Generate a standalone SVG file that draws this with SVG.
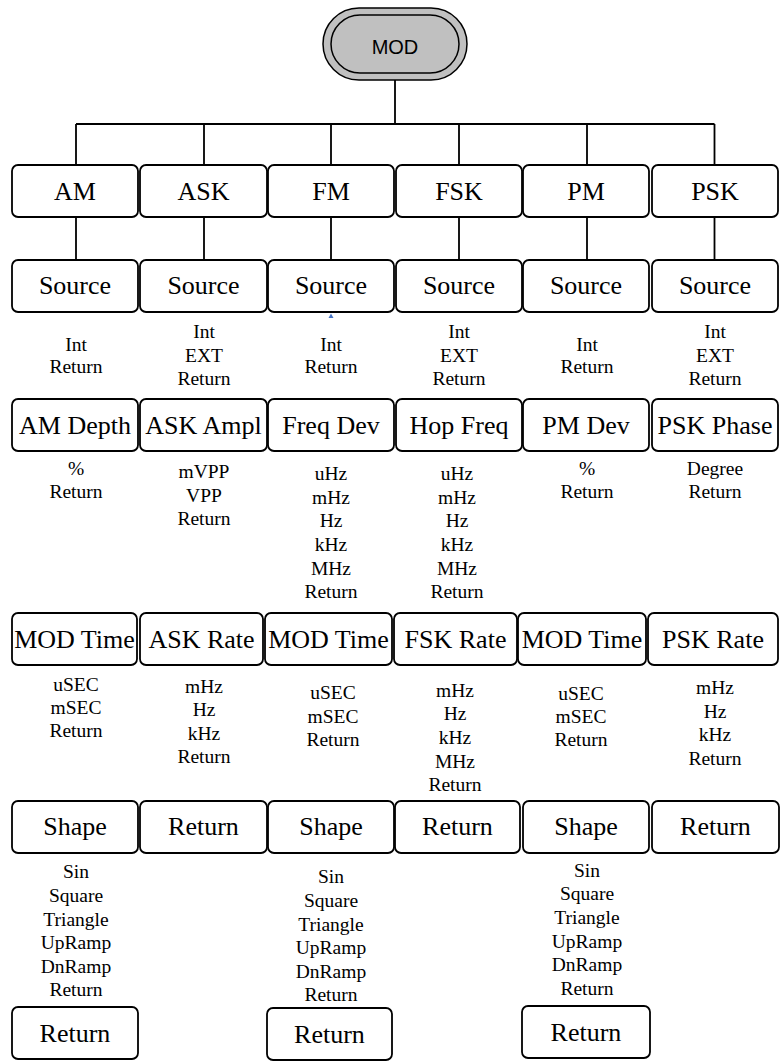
<svg xmlns="http://www.w3.org/2000/svg" width="784" height="1062" viewBox="0 0 784 1062">
<style>
.bx{fill:#fff;stroke:#000;stroke-width:1.8}
.bt{font-size:26px;fill:#000;text-anchor:middle}
.lt{font-size:19.5px;fill:#000;text-anchor:middle}
.cn{stroke:#000;stroke-width:1.8;fill:none}
.pill{fill:#c0c0c0;stroke:#000;stroke-width:1.5}
</style>
<rect width="784" height="1062" fill="#fff"/>
<g id="connectors">
<path class="cn" d="M395,80V124M76,124H714.5M76,124V165M204,124V165M331,124V165M459,124V165M587,124V165M714.5,124V165"/>
<path class="cn" d="M76,217V260M204,217V260M331,217V260M459,217V260M587,217V260M714.5,217V260"/>
<polygon points="331,313.5 328.5,318 333.5,318" fill="#4472c4"/>
</g>
<g id="mod">
<rect class="pill" x="323" y="8" width="144" height="72" rx="36"/>
<rect class="pill" x="331" y="15" width="128" height="58" rx="29"/>
<text x="395" y="54" font-family="Liberation Sans, Arial, sans-serif" font-size="20" text-anchor="middle">MOD</text>
</g>
<g font-family="Liberation Serif, DejaVu Serif, serif">
<g id="row1">
<g id="n-am"><rect class="bx" x="12" y="165" width="126" height="52" rx="6"/><text class="bt" x="75" y="199.6">AM</text></g>
<g id="n-ask"><rect class="bx" x="140" y="165" width="127" height="52" rx="6"/><text class="bt" x="203.5" y="199.6">ASK</text></g>
<g id="n-fm"><rect class="bx" x="268" y="165" width="126" height="52" rx="6"/><text class="bt" x="331" y="199.6">FM</text></g>
<g id="n-fsk"><rect class="bx" x="396" y="165" width="126" height="52" rx="6"/><text class="bt" x="459" y="199.6">FSK</text></g>
<g id="n-pm"><rect class="bx" x="523" y="165" width="126" height="52" rx="6"/><text class="bt" x="586" y="199.6">PM</text></g>
<g id="n-psk"><rect class="bx" x="652" y="165" width="126" height="52" rx="6"/><text class="bt" x="715" y="199.6">PSK</text></g>
</g>
<g id="row2">
<g id="n-src1"><rect class="bx" x="12" y="260" width="126" height="52" rx="6"/><text class="bt" x="75" y="294">Source</text></g>
<g id="n-src2"><rect class="bx" x="140" y="260" width="127" height="52" rx="6"/><text class="bt" x="203.5" y="294">Source</text></g>
<g id="n-src3"><rect class="bx" x="268" y="260" width="126" height="52" rx="6"/><text class="bt" x="331" y="294">Source</text></g>
<g id="n-src4"><rect class="bx" x="396" y="260" width="126" height="52" rx="6"/><text class="bt" x="459" y="294">Source</text></g>
<g id="n-src5"><rect class="bx" x="523" y="260" width="126" height="52" rx="6"/><text class="bt" x="586" y="294">Source</text></g>
<g id="n-src6"><rect class="bx" x="652" y="260" width="126" height="52" rx="6"/><text class="bt" x="715" y="294">Source</text></g>
</g>
<g id="list2">
<text class="lt" x="76" y="350.7">Int</text><text class="lt" x="76" y="373">Return</text>
<text class="lt" x="204" y="338.3">Int</text><text class="lt" x="204" y="361.7">EXT</text><text class="lt" x="204" y="385">Return</text>
<text class="lt" x="331" y="350.7">Int</text><text class="lt" x="331" y="373">Return</text>
<text class="lt" x="459" y="338.3">Int</text><text class="lt" x="459" y="361.7">EXT</text><text class="lt" x="459" y="385">Return</text>
<text class="lt" x="587" y="350.7">Int</text><text class="lt" x="587" y="373">Return</text>
<text class="lt" x="715" y="338.3">Int</text><text class="lt" x="715" y="361.7">EXT</text><text class="lt" x="715" y="385">Return</text>
</g>
<g id="row3">
<g id="n-amdepth"><rect class="bx" x="12" y="399" width="126" height="52" rx="6"/><text class="bt" x="75" y="434">AM Depth</text></g>
<g id="n-askampl"><rect class="bx" x="140" y="399" width="127" height="52" rx="6"/><text class="bt" x="203.5" y="434">ASK Ampl</text></g>
<g id="n-freqdev"><rect class="bx" x="268" y="399" width="126" height="52" rx="6"/><text class="bt" x="331" y="434">Freq Dev</text></g>
<g id="n-hopfreq"><rect class="bx" x="396" y="399" width="126" height="52" rx="6"/><text class="bt" x="459" y="434">Hop Freq</text></g>
<g id="n-pmdev"><rect class="bx" x="523" y="399" width="126" height="52" rx="6"/><text class="bt" x="586" y="434">PM Dev</text></g>
<g id="n-pskphase"><rect class="bx" x="652" y="399" width="126" height="52" rx="6"/><text class="bt" x="715" y="434">PSK Phase</text></g>
</g>
<g id="list3">
<text class="lt" x="76" y="475">%</text><text class="lt" x="76" y="498.3">Return</text>
<text class="lt" x="204" y="478.3">mVPP</text><text class="lt" x="204" y="501.7">VPP</text><text class="lt" x="204" y="525">Return</text>
<text class="lt" x="331" y="480">uHz</text><text class="lt" x="331" y="503.7">mHz</text><text class="lt" x="331" y="527.3">Hz</text><text class="lt" x="331" y="551">kHz</text><text class="lt" x="331" y="574.7">MHz</text><text class="lt" x="331" y="598.3">Return</text>
<text class="lt" x="457" y="480">uHz</text><text class="lt" x="457" y="503.7">mHz</text><text class="lt" x="457" y="527.3">Hz</text><text class="lt" x="457" y="551">kHz</text><text class="lt" x="457" y="574.7">MHz</text><text class="lt" x="457" y="598.3">Return</text>
<text class="lt" x="587" y="475">%</text><text class="lt" x="587" y="498.3">Return</text>
<text class="lt" x="715" y="475">Degree</text><text class="lt" x="715" y="498.3">Return</text>
</g>
<g id="row4">
<g id="n-modtime1"><rect class="bx" x="12" y="613" width="125" height="52" rx="6"/><text class="bt" x="74.5" y="647.5">MOD Time</text></g>
<g id="n-askrate"><rect class="bx" x="140" y="613" width="123" height="52" rx="6"/><text class="bt" x="201.5" y="647.5">ASK Rate</text></g>
<g id="n-modtime2"><rect class="bx" x="265" y="613" width="127" height="52" rx="6"/><text class="bt" x="328.5" y="647.5">MOD Time</text></g>
<g id="n-fskrate"><rect class="bx" x="394" y="613" width="123" height="52" rx="6"/><text class="bt" x="455.5" y="647.5">FSK Rate</text></g>
<g id="n-modtime3"><rect class="bx" x="518" y="613" width="128" height="52" rx="6"/><text class="bt" x="582" y="647.5">MOD Time</text></g>
<g id="n-pskrate"><rect class="bx" x="648" y="613" width="130" height="52" rx="6"/><text class="bt" x="713" y="647.5">PSK Rate</text></g>
</g>
<g id="list4">
<text class="lt" x="76" y="691">uSEC</text><text class="lt" x="76" y="714">mSEC</text><text class="lt" x="76" y="737.3">Return</text>
<text class="lt" x="204" y="692.7">mHz</text><text class="lt" x="204" y="716.3">Hz</text><text class="lt" x="204" y="740">kHz</text><text class="lt" x="204" y="763.3">Return</text>
<text class="lt" x="333" y="699.3">uSEC</text><text class="lt" x="333" y="722.7">mSEC</text><text class="lt" x="333" y="746.3">Return</text>
<text class="lt" x="455" y="696.7">mHz</text><text class="lt" x="455" y="720.3">Hz</text><text class="lt" x="455" y="744">kHz</text><text class="lt" x="455" y="767.7">MHz</text><text class="lt" x="455" y="791.3">Return</text>
<text class="lt" x="581" y="699.7">uSEC</text><text class="lt" x="581" y="723">mSEC</text><text class="lt" x="581" y="746.3">Return</text>
<text class="lt" x="715" y="694">mHz</text><text class="lt" x="715" y="717.7">Hz</text><text class="lt" x="715" y="741.3">kHz</text><text class="lt" x="715" y="765">Return</text>
</g>
<g id="row5">
<g id="n-shape1"><rect class="bx" x="12" y="801" width="126" height="52" rx="6"/><text class="bt" x="75" y="835">Shape</text></g>
<g id="n-ret2"><rect class="bx" x="140" y="801" width="127" height="52" rx="6"/><text class="bt" x="203.5" y="835">Return</text></g>
<g id="n-shape3"><rect class="bx" x="268" y="801" width="126" height="52" rx="6"/><text class="bt" x="331" y="835">Shape</text></g>
<g id="n-ret4"><rect class="bx" x="395" y="801" width="125" height="52" rx="6"/><text class="bt" x="457.5" y="835">Return</text></g>
<g id="n-shape5"><rect class="bx" x="523" y="801" width="126" height="52" rx="6"/><text class="bt" x="586" y="835">Shape</text></g>
<g id="n-ret6"><rect class="bx" x="652" y="801" width="127" height="52" rx="6"/><text class="bt" x="715.5" y="835">Return</text></g>
</g>
<g id="list5">
<text class="lt" x="76" y="878.3">Sin</text><text class="lt" x="76" y="902">Square</text><text class="lt" x="76" y="925.6">Triangle</text><text class="lt" x="76" y="949.2">UpRamp</text><text class="lt" x="76" y="972.8">DnRamp</text><text class="lt" x="76" y="996.4">Return</text>
<text class="lt" x="331" y="883.3">Sin</text><text class="lt" x="331" y="907">Square</text><text class="lt" x="331" y="930.6">Triangle</text><text class="lt" x="331" y="954.2">UpRamp</text><text class="lt" x="331" y="977.8">DnRamp</text><text class="lt" x="331" y="1001.4">Return</text>
<text class="lt" x="587" y="876.7">Sin</text><text class="lt" x="587" y="900.3">Square</text><text class="lt" x="587" y="924">Triangle</text><text class="lt" x="587" y="947.6">UpRamp</text><text class="lt" x="587" y="971.2">DnRamp</text><text class="lt" x="587" y="994.8">Return</text>
</g>
<g id="row6">
<g id="n-ret-am"><rect class="bx" x="12" y="1007" width="126" height="52" rx="6"/><text class="bt" x="75" y="1042">Return</text></g>
<g id="n-ret-fm"><rect class="bx" x="267" y="1008" width="125" height="52" rx="6"/><text class="bt" x="329.5" y="1043">Return</text></g>
<g id="n-ret-pm"><rect class="bx" x="522" y="1006" width="128" height="52" rx="6"/><text class="bt" x="586" y="1041">Return</text></g>
</g>
</g>
</svg>
